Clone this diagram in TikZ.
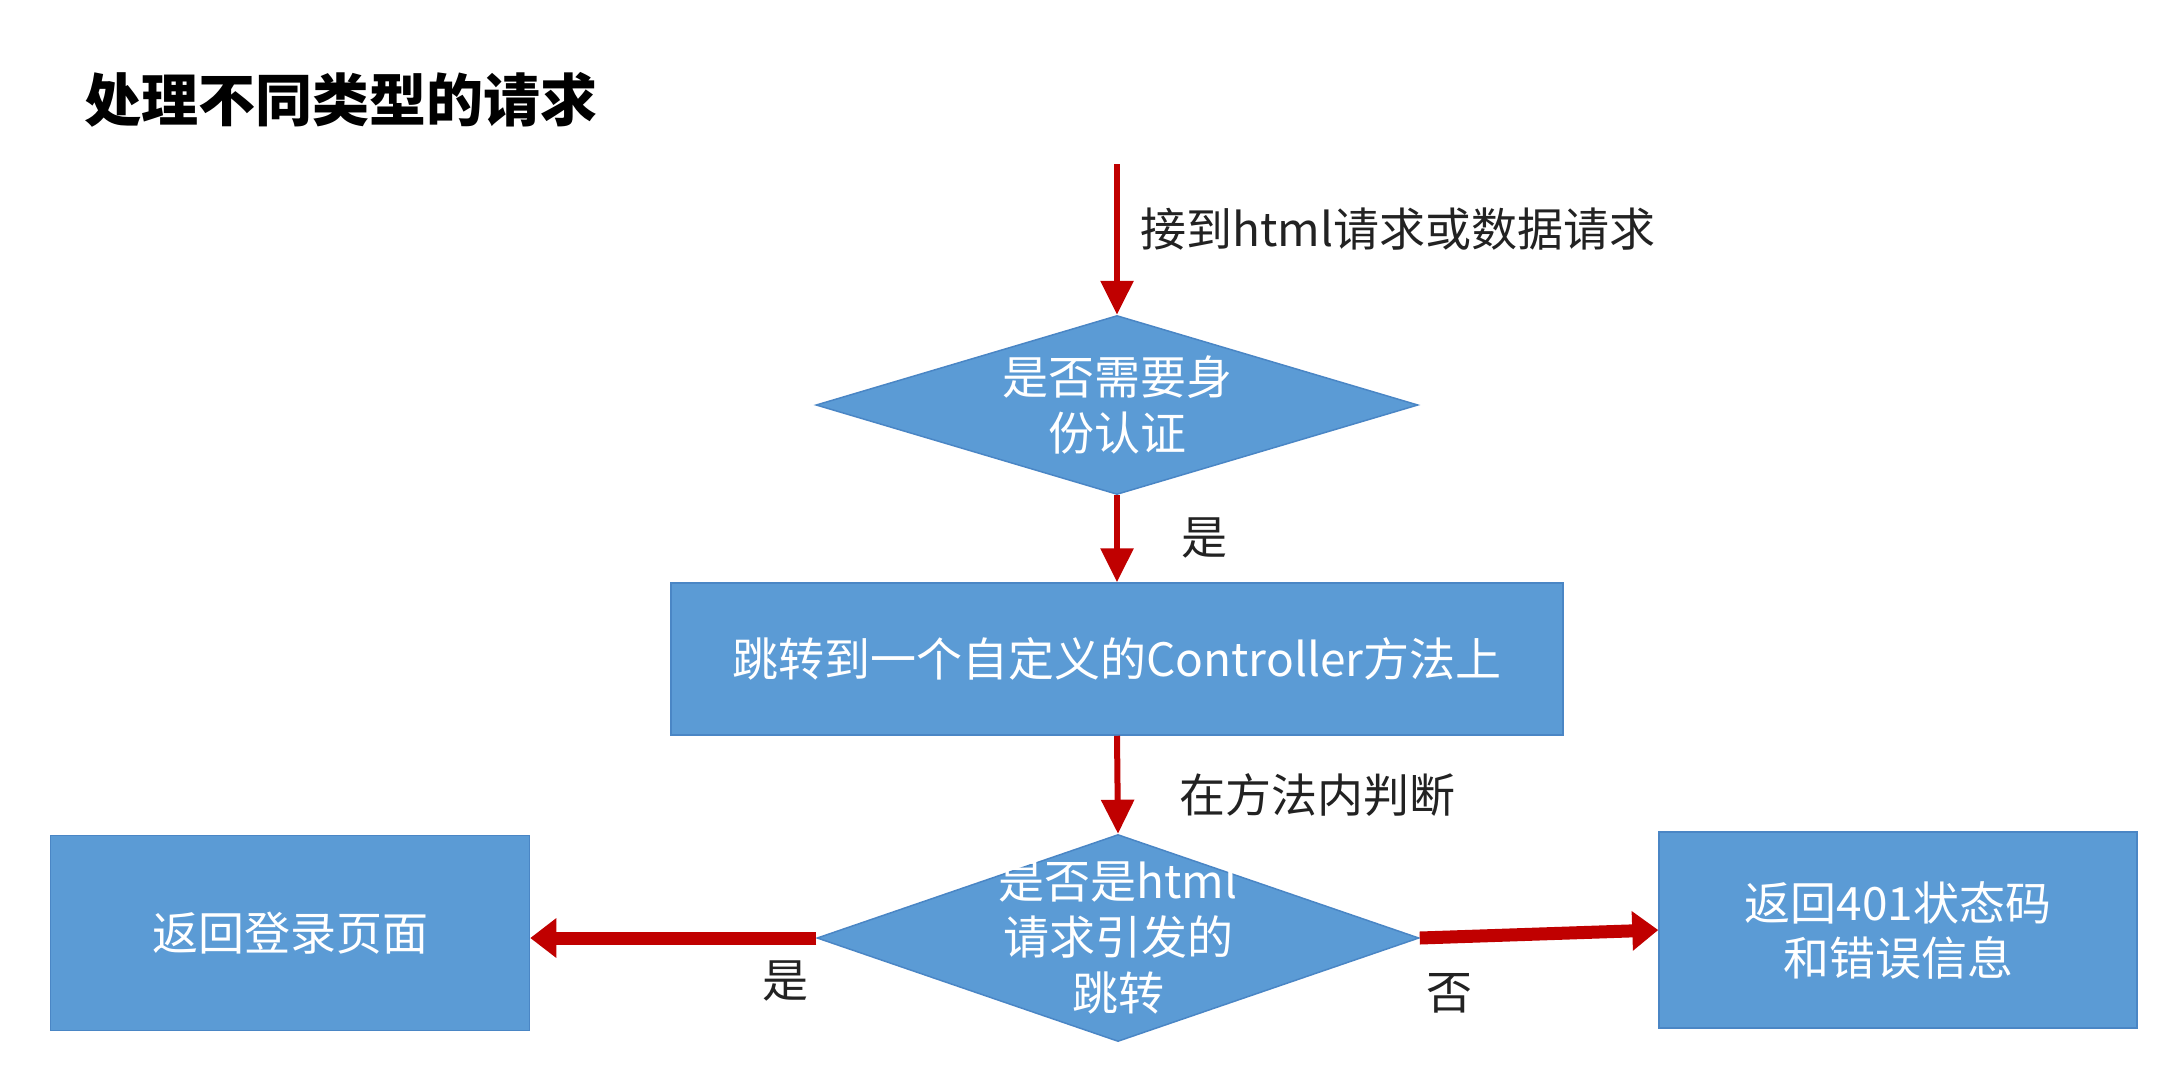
\documentclass[tikz,border=0pt]{standalone}
\usepackage{fontspec}
\setmainfont{Noto Sans CJK SC}
\usetikzlibrary{shapes.geometric,arrows.meta}
\definecolor{boxblue}{HTML}{5B9BD5}
\definecolor{boxline}{HTML}{4A86C5}
\definecolor{arrred}{HTML}{C00000}
\definecolor{lbltext}{HTML}{222222}
\begin{document}
\begin{tikzpicture}[x=1pt,y=-1pt,
  box/.style={rectangle,fill=boxblue,draw=boxline,line width=1.5pt,text=white,align=center,font=\fontsize{46}{55}\selectfont,inner sep=0pt},
  dia/.style={diamond,fill=boxblue,draw=boxline,line width=1.5pt,inner sep=0pt,
    label={[text=white,align=center,font=\fontsize{46}{56}\selectfont,inner sep=0pt]center:#1}},
  flow/.style={draw=arrred,line width=6pt,-{Triangle[width=32pt,length=34pt]}},
  bigflow/.style={draw=arrred,line width=13pt,-{Triangle[width=38pt,length=26pt]}},
  lbl/.style={text=lbltext,font=\fontsize{46}{56}\selectfont,inner sep=0pt}]
\useasboundingbox[fill=white] (0,0) rectangle (2175,1080);
\node[anchor=west,inner sep=0pt,font=\fontsize{57}{64}\selectfont\bfseries] (title) at (84,100) {处理不同类型的请求};
\coordinate (start) at (1117,164);
\node[dia={是否需要身\\份认证},minimum width=602pt,minimum height=179pt] (d1) at (1117,405) {};
\node[box,minimum width=892pt,minimum height=152pt] (b1) at (1117,659) {跳转到一个自定义的Controller方法上};
\node[dia={是否是html\\请求引发的\\跳转},minimum width=602pt,minimum height=207pt] (d2) at (1118,938) {};
\node[box,minimum width=479pt,minimum height=195pt] (lb) at (290,933) {返回登录页面};
\node[box,minimum width=478pt,minimum height=196pt] (rb) at (1898,930) {返回401状态码\\和错误信息};
\draw[flow] (start) -- (d1.north);
\draw[flow] (d1.south) -- (b1.north);
\draw[flow] (b1.south) -- (d2.north);
\draw[bigflow] (d2.west) -- (lb.east |- d2.west);
\draw[bigflow] (d2.east) -- (rb.west);
\node[lbl,anchor=west] (l0) at (1140,229) {接到html请求或数据请求};
\node[lbl] (l1) at (1204,538) {是};
\node[lbl,anchor=west] (l2) at (1179,795) {在方法内判断};
\node[lbl] (l3) at (785,981) {是};
\node[lbl] (l4) at (1449,993) {否};
\end{tikzpicture}
\end{document}
